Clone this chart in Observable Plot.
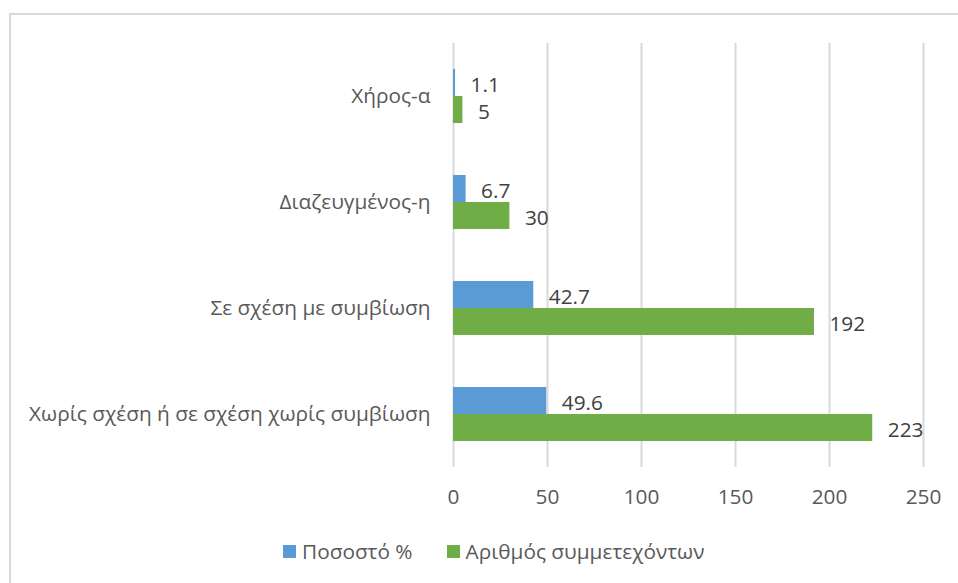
<!DOCTYPE html>
<html><head><meta charset="utf-8">
<script src="https://cdn.jsdelivr.net/npm/d3@7"></script>
<script src="https://cdn.jsdelivr.net/npm/@observablehq/plot@0.6"></script>
<style>
body{margin:0;background:#fff;overflow:hidden;font-family:"Open Sans",sans-serif;width:958px;height:583px;position:relative;}
#frame{position:absolute;left:9px;top:13px;width:2000px;height:2000px;border-left:2px solid #d9d9d9;border-top:2px solid #d9d9d9;}
#chart{position:absolute;left:0;top:0;}
#legend{position:absolute;top:537px;left:283px;display:flex;align-items:center;font-size:20.8px;color:#595959;white-space:nowrap;}
#legend .item{display:flex;align-items:center;margin-right:34px;}
#legend .sw{width:13px;height:13px;margin-right:6px;}
</style></head>
<body>
<div id="frame"></div>
<div id="chart"></div>
<div id="legend"></div>
<script>
const categories = ["Χήρος-α","Διαζευγμένος-η","Σε σχέση με συμβίωση","Χωρίς σχέση ή σε σχέση χωρίς συμβίωση"];
const series = ["Ποσοστό %","Αριθμός συμμετεχόντων"];
const percentValues = [1.1, 6.7, 42.7, 49.6];
const countValues = [5, 30, 192, 223];
const xTicks = [0, 50, 100, 150, 200, 250];
const colors = ["#5b9bd5", "#70ad47"];

const rows = categories.flatMap((c, i) => [
  {category: c, series: series[0], value: percentValues[i]},
  {category: c, series: series[1], value: countValues[i]}
]);

const chart = Plot.plot({
  width: 958, height: 520,
  marginLeft: 453, marginRight: 35, marginTop: 43, marginBottom: 53,
  style: {fontFamily: "'Open Sans', sans-serif", fontSize: "20.8px", color: "#595959", background: "transparent", overflow: "visible"},
  facet: {data: rows, y: "category"},
  fy: {domain: categories, padding: 0, label: null, tickSize: 0, tickPadding: 23, axis: "left"},
  y: {domain: series, paddingInner: 0, paddingOuter: 0.913, axis: null},
  x: {domain: [0, 250], ticks: xTicks, tickSize: 0, tickPadding: 22, label: null},
  color: {domain: series, range: colors},
  marks: [
    Plot.ruleX(xTicks, {stroke: "#d9d9d9", strokeWidth: 2}),
    Plot.barX(rows, {x: "value", y: "series", fill: "series", insetTop: 0, insetBottom: 0}),
    Plot.text(rows, {x: "value", y: "series", text: d => String(d.value), textAnchor: "start", dx: 15, dy: 2, fill: "#404040", fontSize: 20.8})
  ]
});
document.getElementById("chart").appendChild(chart);

const legend = document.getElementById("legend");
series.forEach((s, i) => {
  const item = document.createElement("div");
  item.className = "item";
  const sw = document.createElement("div");
  sw.className = "sw";
  sw.style.background = colors[i];
  const t = document.createElement("span");
  t.textContent = s;
  item.appendChild(sw); item.appendChild(t);
  legend.appendChild(item);
});
</script>
</body></html>
